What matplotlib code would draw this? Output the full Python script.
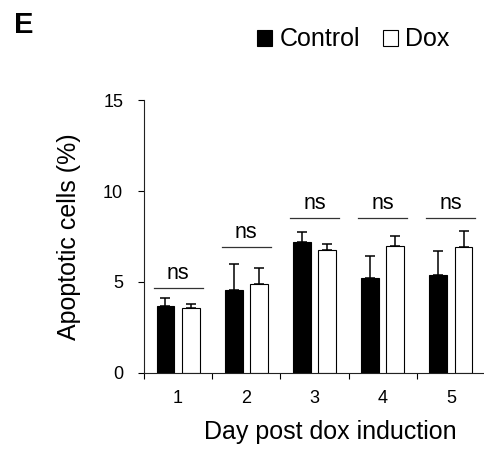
import matplotlib
matplotlib.use('Agg')
import matplotlib.pyplot as plt
import numpy as np

plt.rcParams['font.family'] = ['Liberation Sans', 'DejaVu Sans']

days = ['1', '2', '3', '4', '5']
control = [3.67, 4.53, 7.19, 5.19, 5.39]
control_err = [0.42, 1.43, 0.55, 1.21, 1.32]
dox = [3.56, 4.90, 6.73, 6.95, 6.90]
dox_err = [0.20, 0.84, 0.35, 0.55, 0.88]
sig_labels = ['ns', 'ns', 'ns', 'ns', 'ns']
sig_heights = [4.64, 6.92, 8.5, 8.5, 8.5]

fig = plt.figure(figsize=(4.85, 4.53), dpi=100)
ax = fig.add_axes([144 / 485, 80.3 / 453, 341 / 485, 272.5 / 453])

x = np.arange(1, len(days) + 1)
w = 0.26
off = 0.185
zeros = [0] * len(days)
ax.bar(x - off, control, w, color='black', edgecolor='black', linewidth=0.8,
       yerr=[zeros, control_err], capsize=3.6,
       error_kw={'elinewidth': 1.1, 'capthick': 1.1, 'ecolor': 'black'},
       label='Control', zorder=2)
ax.bar(x + off, dox, w, color='white', edgecolor='black', linewidth=0.8,
       yerr=[zeros, dox_err], capsize=3.6,
       error_kw={'elinewidth': 1.1, 'capthick': 1.1, 'ecolor': 'black'},
       label='Dox', zorder=2)

# significance bars
for xi, h, s in zip(x, sig_heights, sig_labels):
    ax.plot([xi - 0.36, xi + 0.36], [h, h], color='#333333', lw=0.9)
    ax.annotate(s, (xi, h), xytext=(0, 6.5), textcoords='offset points',
                ha='center', va='baseline', fontsize=15.5)

ax.set_xlim(0.5, 0.5 + 341 / 68.75)
ax.set_ylim(0, 15)
ax.set_yticks([0, 5, 10, 15])
ax.set_xticks(x)
ax.set_xticklabels(days)
ax.set_xticks(np.arange(0.5, 5.6, 1), minor=True)
ax.tick_params(axis='x', which='major', length=0, pad=12.5, labelsize=13)
ax.tick_params(axis='x', which='minor', length=4.5, width=0.8, direction='out')
ax.tick_params(axis='y', length=4.5, width=0.8, pad=10.5, labelsize=13)

for sp in ['top', 'right']:
    ax.spines[sp].set_visible(False)
for sp in ['left', 'bottom']:
    ax.spines[sp].set_linewidth(0.8)
    ax.spines[sp].set_color('#222222')

ax.set_xlabel('Day post dox induction', fontsize=18)
ax.xaxis.set_label_coords(0.545, -0.174)
ax.set_ylabel('Apoptotic cells (%)', fontsize=18)
ax.yaxis.set_label_coords(-0.185, 0.5)

leg = ax.legend(ncol=2, frameon=False, fontsize=18, handlelength=0.6,
                handleheight=0.6, handletextpad=0.3, columnspacing=0.9,
                borderpad=0, borderaxespad=0, loc='center left',
                bbox_to_anchor=(257 / 485, 1 - 39.5 / 453),
                bbox_transform=fig.transFigure)

fig.text(14 / 485, 1 - 33 / 453, 'E', fontsize=21, fontweight='bold',
         ha='left', va='baseline')

fig.savefig('out.png', dpi=100)
